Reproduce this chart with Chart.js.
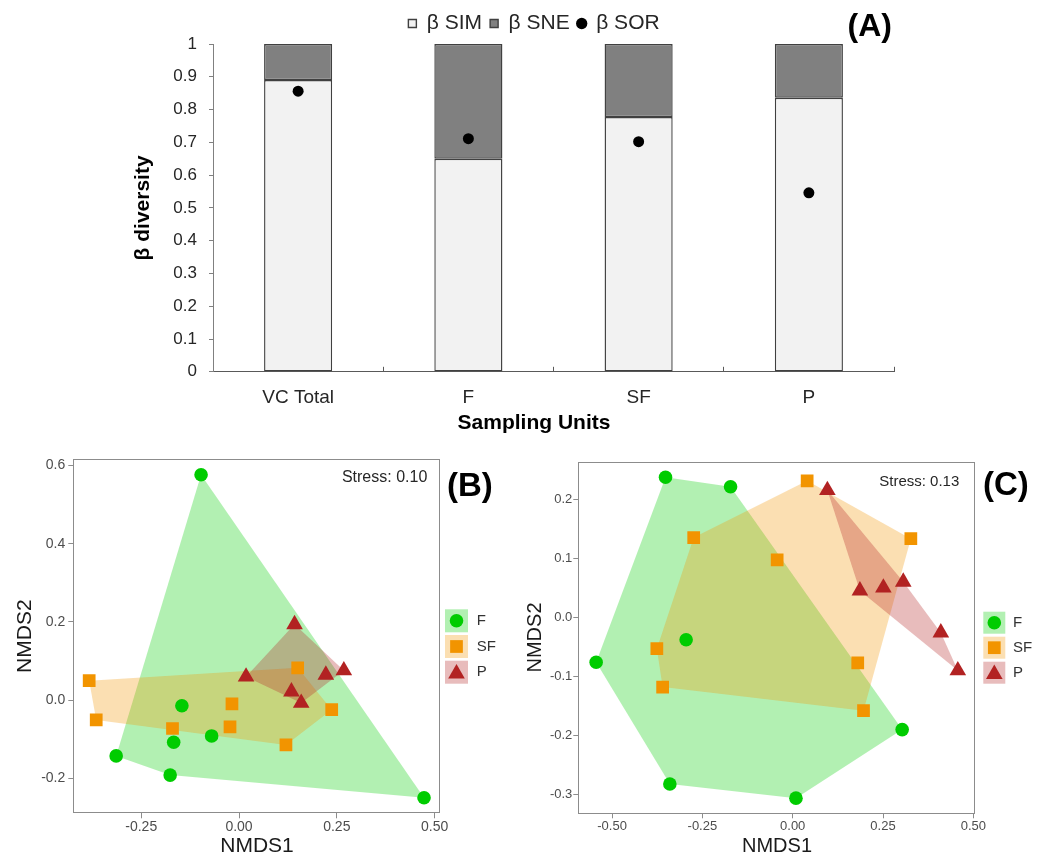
<!DOCTYPE html>
<html><head><meta charset="utf-8">
<script src="https://cdn.jsdelivr.net/npm/chart.js"></script>
<style>
html,body{margin:0;padding:0;background:#fff;}
#wrap{position:relative;width:1051px;height:859px;overflow:hidden;background:#fff;}
canvas{position:absolute;}
</style></head>
<body><div id="wrap">
<canvas id="chartA" width="828" height="440" style="left:120px;top:0px"></canvas>
<canvas id="chartB" width="520" height="419" style="left:0px;top:440px"></canvas>
<canvas id="chartC" width="531" height="419" style="left:520px;top:440px"></canvas>
</div>
<script>
// ---------- Panel A data ----------
const unitLabels = ['VC Total', 'F', 'SF', 'P'];
const simValues = [0.890, 0.650, 0.777, 0.836];
const sneValues = [0.110, 0.350, 0.223, 0.164];
const sorValues = [0.856, 0.711, 0.702, 0.546];
const diversityTickValues = [0, 0.1, 0.2, 0.3, 0.4, 0.5, 0.6, 0.7, 0.8, 0.9, 1];

// ---------- Panel B data (NMDS1, NMDS2) ----------
const groupNames = ['F', 'SF', 'P'];
const bF = [[-0.097, 0.576], [-0.146, -0.014], [-0.070, -0.091], [-0.167, -0.107], [-0.314, -0.142], [-0.176, -0.191], [0.473, -0.249]];
const bSF = [[-0.383, 0.050], [-0.365, -0.050], [-0.170, -0.072], [-0.018, -0.009], [-0.023, -0.068], [0.120, -0.114], [0.237, -0.024], [0.150, 0.083]];
const bP = [[0.142, 0.194], [0.018, 0.060], [0.222, 0.065], [0.268, 0.076], [0.134, 0.022], [0.159, -0.007]];
const bXTicks = [-0.25, 0, 0.25, 0.5];
const bYTicks = [-0.2, 0, 0.2, 0.4, 0.6];

// ---------- Panel C data (NMDS1, NMDS2) ----------
const cF = [[-0.352, 0.237], [-0.172, 0.221], [-0.295, -0.038], [-0.544, -0.076], [-0.340, -0.282], [0.009, -0.306], [0.303, -0.190]];
const cSF = [[0.040, 0.231], [-0.274, 0.135], [-0.043, 0.097], [0.327, 0.133], [-0.376, -0.053], [-0.360, -0.118], [0.180, -0.077], [0.196, -0.158]];
const cP = [[0.096, 0.215], [0.186, 0.045], [0.251, 0.050], [0.306, 0.060], [0.410, -0.026], [0.457, -0.090]];
const cXTicks = [-0.5, -0.25, 0, 0.25, 0.5];
const cYTicks = [-0.3, -0.2, -0.1, 0, 0.1, 0.2];

// ---------- styles ----------
const FONT = '"Liberation Sans", Arial, Helvetica, sans-serif';
Chart.defaults.font.family = FONT;
const groupColors = ['#00cc00', '#f29400', '#b22222'];
const hullFills = ['rgba(0,204,0,0.3)', 'rgba(242,148,0,0.3)', 'rgba(178,34,34,0.3)'];
const groupShapes = [{style: 'circle', radius: 6.8}, {style: 'rect', radius: 9}, {style: 'triangle', radius: 9.6}];

function convexHull(pts) {
  const p = pts.slice().sort((a, b) => a[0] - b[0] || a[1] - b[1]);
  const cross = (o, a, b) => (a[0] - o[0]) * (b[1] - o[1]) - (a[1] - o[1]) * (b[0] - o[0]);
  const lower = [];
  for (const q of p) {
    while (lower.length >= 2 && cross(lower[lower.length - 2], lower[lower.length - 1], q) <= 0) lower.pop();
    lower.push(q);
  }
  const upper = [];
  for (let i = p.length - 1; i >= 0; i--) {
    const q = p[i];
    while (upper.length >= 2 && cross(upper[upper.length - 2], upper[upper.length - 1], q) <= 0) upper.pop();
    upper.push(q);
  }
  upper.pop(); lower.pop();
  const h = lower.concat(upper);
  h.push(h[0]);
  return h;
}

function drawMarker(ctx, style, radius, x, y) {
  if (Chart.helpers && Chart.helpers.drawPoint) {
    Chart.helpers.drawPoint(ctx, {pointStyle: style, radius: radius, rotation: 0, borderWidth: 0}, x, y);
    return;
  }
  ctx.beginPath();
  if (style === 'circle') ctx.arc(x, y, radius, 0, Math.PI * 2);
  else if (style === 'rect') { const s = radius * Math.SQRT1_2; ctx.rect(x - s, y - s, 2 * s, 2 * s); }
  else { ctx.moveTo(x, y - radius); ctx.lineTo(x + radius * 0.866, y + radius / 2); ctx.lineTo(x - radius * 0.866, y + radius / 2); ctx.closePath(); }
  ctx.fill();
}

// ---------- Panel A ----------
const tagPlugin = {
  id: 'tagPlugin',
  afterDraw(chart, args, opts) {
    const {ctx, chartArea: a} = chart;
    ctx.save();
    ctx.font = 'bold ' + opts.size + 'px ' + FONT;
    ctx.fillStyle = '#000';
    ctx.textAlign = 'right';
    ctx.textBaseline = 'middle';
    ctx.fillText(opts.text, a.right + opts.dx, a.top + opts.dy);
    ctx.restore();
  }
};

new Chart(document.getElementById('chartA'), {
  type: 'bar',
  data: {
    labels: unitLabels,
    datasets: [
      {label: 'β SIM', data: simValues, backgroundColor: '#f2f2f2', borderColor: '#404040', borderWidth: 1.4,
       borderSkipped: false, stack: 'beta', pointStyle: 'rect', order: 2, barPercentage: 0.5, categoryPercentage: 0.8},
      {label: 'β SNE', data: sneValues, backgroundColor: '#808080', borderColor: '#404040', borderWidth: 1.4,
       borderSkipped: false, stack: 'beta', pointStyle: 'rect', order: 2, barPercentage: 0.5, categoryPercentage: 0.8},
      {type: 'line', label: 'β SOR', data: sorValues, showLine: false, pointStyle: 'circle', pointRadius: 5.5,
       backgroundColor: '#000', borderColor: '#000', pointBorderWidth: 0, borderWidth: 0, stack: 'sor', order: 0}
    ]
  },
  options: {
    responsive: false, animation: false, events: [],
    layout: {padding: {top: 5, left: 0, right: 0, bottom: 0}},
    plugins: {
      legend: {position: 'top', labels: {usePointStyle: true, boxWidth: 8, boxHeight: 8, padding: 8,
        font: {size: 21}, color: '#262626', sort: (a, b) => a.datasetIndex - b.datasetIndex}},
      title: {display: true, position: 'bottom', text: 'Sampling Units', color: '#000',
        font: {size: 21, weight: 'bold'}, padding: {top: 1, bottom: 4}},
      tooltip: {enabled: false},
      tagPlugin: {text: '(A)', size: 32, dx: -2, dy: -17}
    },
    scales: {
      x: {stacked: true, offset: true,
        grid: {display: true, offset: true, drawOnChartArea: false, tickLength: -5, color: '#595959'},
        border: {display: true, color: '#595959'},
        ticks: {padding: 19.6, font: {size: 19}, color: '#262626', maxRotation: 0},
        afterFit(s) { s.height = 38; }},
      y: {stacked: true, min: 0, max: 1,
        afterBuildTicks(s) { s.ticks = diversityTickValues.map(v => ({value: v})); },
        ticks: {padding: 12, font: {size: 17}, color: '#262626', callback: v => String(+v.toFixed(1))},
        grid: {display: true, drawOnChartArea: false, tickLength: 4, color: '#808080'},
        border: {display: true, color: '#808080'},
        title: {display: true, text: 'β diversity', color: '#000', font: {size: 21, weight: 'bold'}, padding: {top: 10.4, bottom: 0}},
        afterFit(s) { s.width = 93; }},
      y2: {type: 'linear', position: 'right', display: true,
        grid: {display: false}, ticks: {display: false}, border: {display: false},
        afterFit(s) { s.width = 54; }}
    }
  },
  plugins: [tagPlugin]
});

// ---------- Panels B & C ----------
const nmdsDecor = {
  id: 'nmdsDecor',
  afterDraw(chart, args, o) {
    const {ctx, chartArea: a} = chart;
    ctx.save();
    // panel border
    ctx.strokeStyle = '#8c8c8c';
    ctx.lineWidth = 1;
    ctx.strokeRect(Math.round(a.left) + 0.5, Math.round(a.top) + 0.5, Math.round(a.right - a.left) - 1, Math.round(a.bottom - a.top) - 1);
    // stress annotation
    ctx.font = o.stressSize + 'px ' + FONT;
    ctx.fillStyle = '#262626';
    ctx.textAlign = 'right';
    ctx.textBaseline = 'middle';
    ctx.fillText(o.stress, a.right - o.stressDx, a.top + o.stressDy);
    // panel tag
    ctx.font = 'bold ' + o.tagSize + 'px ' + FONT;
    ctx.fillStyle = '#000';
    ctx.textAlign = 'left';
    ctx.fillText(o.tag, a.right + o.tagDx, a.top + o.tagDy);
    // legend keys built from the point datasets
    const pts = chart.data.datasets.filter(d => !d.isHull);
    const hulls = chart.data.datasets.filter(d => d.isHull);
    pts.forEach((d, i) => {
      const x = a.right + o.keyDx, y = a.top + o.keyDy + i * o.keyStep, s = o.keySize;
      ctx.fillStyle = hulls[i].backgroundColor;
      ctx.fillRect(x, y, s, s);
      ctx.fillStyle = d.backgroundColor;
      drawMarker(ctx, d.pointStyle, d.pointRadius, x + s / 2, y + s / 2 + (d.pointStyle === 'triangle' ? 1.5 : 0));
      ctx.fillStyle = '#333';
      ctx.font = o.keyFont + 'px ' + FONT;
      ctx.textAlign = 'left';
      ctx.fillText(d.label, a.right + o.labelDx, y + s / 2);
    });
    ctx.restore();
  }
};

function makeNmds(id, groups, cfg) {
  const datasets = [];
  groups.forEach((g, i) => {
    datasets.push({label: groupNames[i] + ' hull', isHull: true, data: convexHull(g).map(([x, y]) => ({x, y})),
      showLine: true, fill: 'shape', backgroundColor: hullFills[i], borderColor: 'rgba(0,0,0,0)', borderWidth: 0,
      pointRadius: 0, order: 6 - i});
  });
  groups.forEach((g, i) => {
    datasets.push({label: groupNames[i], data: g.map(([x, y]) => ({x, y})), showLine: false,
      pointStyle: groupShapes[i].style, pointRadius: groupShapes[i].radius,
      backgroundColor: groupColors[i], borderColor: groupColors[i], pointBorderWidth: 0, borderWidth: 0, order: 3 - i});
  });
  new Chart(document.getElementById(id), {
    type: 'scatter',
    data: {datasets},
    options: {
      responsive: false, animation: false, events: [],
      layout: {padding: cfg.padding},
      plugins: {legend: {display: false}, tooltip: {enabled: false}, nmdsDecor: cfg.decor},
      scales: {
        x: {type: 'linear', min: cfg.xMin, max: cfg.xMax,
          afterBuildTicks(s) { s.ticks = cfg.xTicks.map(v => ({value: v})); },
          ticks: {callback: v => v.toFixed(2), font: {size: cfg.tickFont}, color: '#4d4d4d', padding: cfg.xTickPad, maxRotation: 0, autoSkip: false},
          grid: {display: true, drawOnChartArea: false, tickLength: 5, color: '#8c8c8c'},
          border: {display: false},
          title: {display: true, text: 'NMDS1', color: '#1a1a1a', font: {size: cfg.titleFont}, padding: {top: 0, bottom: cfg.xTitlePad}},
          afterFit(s) { s.height = cfg.xAxisH; }},
        y: {type: 'linear', min: cfg.yMin, max: cfg.yMax,
          afterBuildTicks(s) { s.ticks = cfg.yTicks.map(v => ({value: v})); },
          ticks: {callback: v => v.toFixed(1), font: {size: cfg.tickFont}, color: '#4d4d4d', padding: cfg.yTickPad, autoSkip: false},
          grid: {display: true, drawOnChartArea: false, tickLength: 5, color: '#8c8c8c'},
          border: {display: false},
          title: {display: true, text: 'NMDS2', color: '#1a1a1a', font: {size: cfg.titleFont}, padding: {top: cfg.yTitlePad, bottom: 0}},
          afterFit(s) { s.width = cfg.yAxisW; }}
      }
    },
    plugins: [nmdsDecor]
  });
}

makeNmds('chartB', [bF, bSF, bP], {
  padding: {top: 19, right: 79.3, left: 0, bottom: 0},
  xMin: -0.4236, xMax: 0.5156, yMin: -0.2886, yMax: 0.6163,
  xTicks: bXTicks, yTicks: bYTicks,
  tickFont: 14, titleFont: 21, xTickPad: 0, yTickPad: 3, xTitlePad: 0, yTitlePad: 12.4,
  xAxisH: 45.7, yAxisW: 73.3,
  decor: {stress: 'Stress: 0.10', stressSize: 16, stressDx: 13.4, stressDy: 19,
    tag: '(B)', tagSize: 33, tagDx: 6.3, tagDy: 28,
    keyDx: 4.3, keyDy: 150.3, keyStep: 25.7, keySize: 23, keyFont: 15, labelDx: 36}
});

makeNmds('chartC', [cF, cSF, cP], {
  padding: {top: 21.7, right: 75.3, left: 0, bottom: 0},
  xMin: -0.5934, xMax: 0.5065, yMin: -0.3316, yMax: 0.2633,
  xTicks: cXTicks, yTicks: cYTicks,
  tickFont: 13, titleFont: 20, xTickPad: 0.6, yTickPad: 1, xTitlePad: 1, yTitlePad: 3,
  xAxisH: 45.7, yAxisW: 58.3,
  decor: {stress: 'Stress: 0.13', stressSize: 15, stressDx: 16.4, stressDy: 20.6,
    tag: '(C)', tagSize: 33, tagDx: 7.3, tagDy: 24.3,
    keyDx: 7.6, keyDy: 150, keyStep: 25, keySize: 22, keyFont: 15, labelDx: 37.3}
});
</script>
</body></html>
